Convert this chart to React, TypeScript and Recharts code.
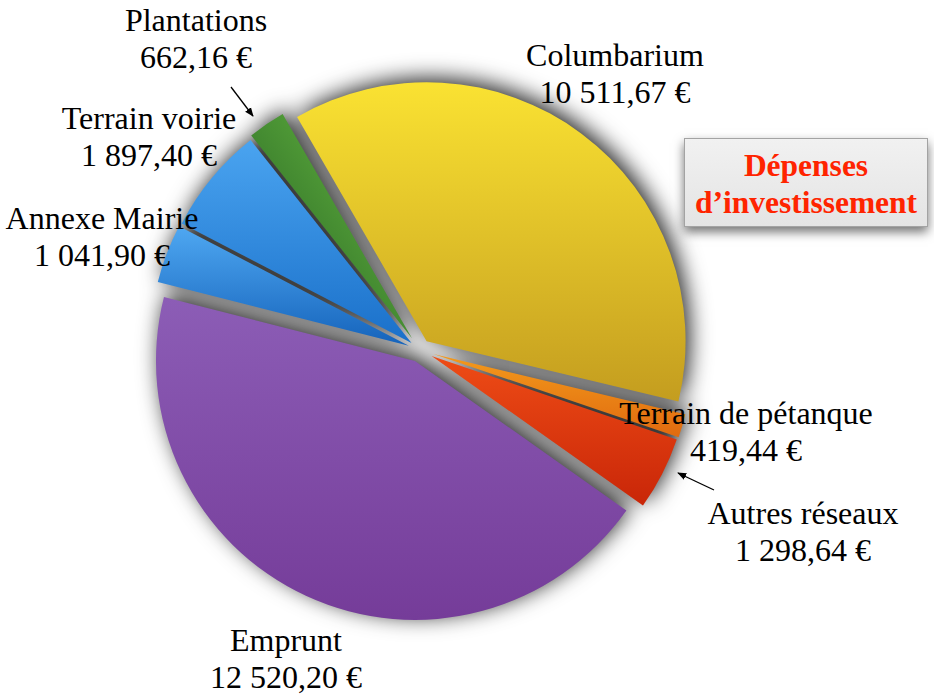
import React from 'react';
import { PieChart, Pie, Cell } from 'recharts';

// Dépenses d'investissement (€), ordre horaire depuis le haut
const categories = [
  'Columbarium',
  'Terrain de pétanque',
  'Autres réseaux',
  'Emprunt',
  'Annexe Mairie',
  'Terrain voirie',
  'Plantations',
];
const amounts = [10511.67, 419.44, 1298.64, 12520.2, 1041.9, 1897.4, 662.16];

// écartement de chaque part (px)
const explode = [11, 14, 13, 12, 12, 11, 14];

// dégradés [haut, bas]
const GRADIENTS: [string, string][] = [
  ['#fae232', '#c49d1f'],
  ['#f39a1c', '#e06a0f'],
  ['#ee4c16', '#c92608'],
  ['#8c5db6', '#753c99'],
  ['#4fa8f2', '#1563bb'],
  ['#4aa4f0', '#1a70ca'],
  ['#6fc446', '#1d561e'],
];

const W = 934;
const H = 696;
const CX = 415;
const CY = 345;
const R = 259;
const START = 120;

const FONT = '"Liberation Serif", "Times New Roman", serif';

function formatEuro(v: number): string {
  const [int, dec] = v.toFixed(2).split('.');
  const grouped = int.replace(/\B(?=(\d{3})+(?!\d))/g, ' ');
  return `${grouped},${dec} €`;
}

const data = categories.map((name, i) => ({ name, value: amounts[i] }));
const total = amounts.reduce((a, b) => a + b, 0);

// étiquettes : centre horizontal et haut du bloc
const LABELS: { x: number; top: number }[] = [
  { x: 615, top: 38 },
  { x: 746, top: 396 },
  { x: 803, top: 496 },
  { x: 286, top: 623 },
  { x: 102, top: 201 },
  { x: 149, top: 101 },
  { x: 196, top: 3 },
];

function offsetFor(i: number) {
  const before = amounts.slice(0, i).reduce((a, b) => a + b, 0);
  const mid = START - (360 * (before + amounts[i] / 2)) / total;
  const rad = (mid * Math.PI) / 180;
  return { dx: explode[i] * Math.cos(rad), dy: -explode[i] * Math.sin(rad) };
}

export default function App() {
  return (
    <div style={{ position: 'absolute', left: 0, top: 0, width: W, height: H, background: '#fff' }}>
      <div style={{ position: 'absolute', left: 0, top: 0, filter: 'drop-shadow(4px -4px 11px rgba(0,0,0,0.85))' }}>
        <PieChart width={W} height={H}>
          <defs>
            {GRADIENTS.map(([a, b], i) => (
              <linearGradient
                key={i}
                id={`grad-${i}`}
                x1={i === 6 ? 1 : 0}
                y1="0"
                x2="0"
                y2="1"
              >
                <stop offset="0%" stopColor={a} />
                <stop offset="100%" stopColor={b} />
              </linearGradient>
            ))}
          </defs>
          {data.map((_, k) => {
            const { dx, dy } = offsetFor(k);
            return (
              <Pie
                key={k}
                data={data}
                dataKey="value"
                nameKey="name"
                cx={CX + dx}
                cy={CY + dy}
                outerRadius={R}
                startAngle={START}
                endAngle={START - 360}
                stroke="none"
                isAnimationActive={false}
                legendType="none"
              >
                {data.map((d, i) => (
                  <Cell key={d.name} fill={i === k ? `url(#grad-${i})` : 'none'} stroke="none" />
                ))}
              </Pie>
            );
          })}
        </PieChart>
      </div>

      <svg width={W} height={H} style={{ position: 'absolute', left: 0, top: 0 }}>
        <defs>
          <marker id="arrow" viewBox="0 0 10 10" refX="9" refY="5" markerWidth="7" markerHeight="7" orient="auto">
            <path d="M0,1 L10,5 L0,9 z" fill="#000" />
          </marker>
        </defs>
        <line x1={231} y1={87} x2={253} y2={116} stroke="#000" strokeWidth={1.3} markerEnd="url(#arrow)" />
        <line x1={714} y1={490} x2={678} y2={473} stroke="#000" strokeWidth={1.3} markerEnd="url(#arrow)" />
      </svg>

      {data.map((d, i) => (
        <div
          key={d.name}
          style={{
            position: 'absolute',
            left: LABELS[i].x - 160,
            top: LABELS[i].top - 1,
            width: 320,
            textAlign: 'center',
            fontFamily: FONT,
            fontSize: 32,
            lineHeight: '36.5px',
            color: '#000',
            whiteSpace: 'nowrap',
          }}
        >
          <div>{d.name}</div>
          <div>{formatEuro(d.value)}</div>
        </div>
      ))}

      <div
        style={{
          position: 'absolute',
          left: 684,
          top: 138,
          width: 244,
          height: 89,
          boxSizing: 'border-box',
          border: '1px solid #a3a3a3',
          background: 'linear-gradient(#f1f1f1, #e4e4e4)',
          boxShadow: '0 5px 10px rgba(0,0,0,0.55)',
          textAlign: 'center',
          fontFamily: FONT,
          fontWeight: 'bold',
          fontSize: 31.5,
          lineHeight: '37px',
          color: '#ff2400',
          paddingTop: 8,
          whiteSpace: 'nowrap',
        }}
      >
        <div>Dépenses</div>
        <div>d’investissement</div>
      </div>
    </div>
  );
}
